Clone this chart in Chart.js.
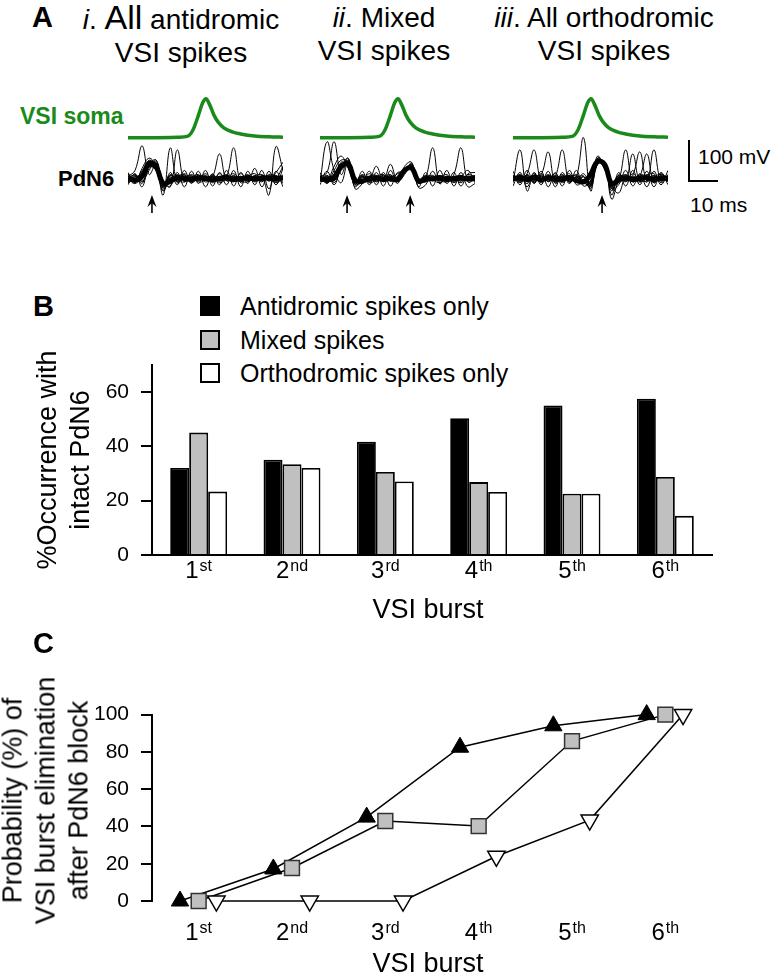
<!DOCTYPE html>
<html>
<head>
<meta charset="utf-8">
<script src="https://cdn.jsdelivr.net/npm/chart.js@4.4.1/dist/chart.umd.min.js"></script>
<style>
body{margin:0;background:#fff;font-family:'Liberation Sans',Arial,sans-serif;color:#000}
#fig{position:relative;width:777px;height:978px;overflow:hidden}
.t{position:absolute;white-space:nowrap}
canvas{position:absolute}
.letter{font-weight:bold;font-size:29px;line-height:32px}
.title{font-size:28px;line-height:33px;text-align:center;width:280px}
.box{position:absolute;width:20px;height:20px;box-sizing:border-box;border:2px solid #000}
.leg{font-size:25px;line-height:28px}
.ytitle{font-size:27px;line-height:33px;text-align:center;width:300px;transform:rotate(-90deg)}
.xtitle{font-size:27px;line-height:32px;text-align:center;width:200px}
</style>
</head>
<body>
<div id="fig">
  <!-- panel A -->
  <div class="t letter" style="left:32px;top:1px">A</div>
  <div class="t title" style="left:41px;top:1px"><i>i</i>. <span style="font-size:34px">All</span> antidromic<br>VSI spikes</div>
  <div class="t title" style="left:244px;top:1px"><i>ii</i>. Mixed<br>VSI spikes</div>
  <div class="t title" style="left:464px;top:1px"><i>iii</i>. All orthodromic<br>VSI spikes</div>
  <div class="t" style="left:20px;top:103px;font-weight:bold;font-size:23px;line-height:26px;color:#1a8a1a">VSI soma</div>
  <div class="t" style="left:58px;top:166px;font-weight:bold;font-size:22px;line-height:26px">PdN6</div>
  <canvas id="traceI" width="155" height="135" style="left:128px;top:85px"></canvas>
  <canvas id="traceII" width="155" height="135" style="left:320px;top:85px"></canvas>
  <canvas id="traceIII" width="155" height="135" style="left:513px;top:85px"></canvas>
  <div style="position:absolute;left:688px;top:140px;width:30px;height:42px;box-sizing:border-box;border-left:2px solid #000;border-bottom:2px solid #000"></div>
  <div class="t" style="left:698px;top:145px;font-size:21px;line-height:24px">100 mV</div>
  <div class="t" style="left:690px;top:193px;font-size:21px;line-height:24px">10 ms</div>

  <!-- panel B -->
  <div class="t letter" style="left:33px;top:290px">B</div>
  <div class="box" style="left:200px;top:296px;background:#000"></div>
  <div class="box" style="left:200px;top:330px;background:#c0c0c0"></div>
  <div class="box" style="left:200px;top:363px;background:#fff"></div>
  <div class="t leg" style="left:240px;top:292px">Antidromic spikes only</div>
  <div class="t leg" style="left:240px;top:326px">Mixed spikes</div>
  <div class="t leg" style="left:240px;top:359px">Orthodromic spikes only</div>
  <canvas id="chartB" width="777" height="280" style="left:0;top:340px"></canvas>
  <div class="t ytitle" style="left:-86px;top:427px">%Occurrence with<br>intact PdN6</div>
  <div class="t xtitle" style="left:328px;top:593px">VSI burst</div>

  <!-- panel C -->
  <div class="t letter" style="left:33px;top:627px">C</div>
  <canvas id="chartC" width="777" height="288" style="left:0;top:690px"></canvas>
  <div class="t ytitle" style="left:-104px;top:751px">Probability (%) of<br>VSI burst elimination<br>after PdN6 block</div>
  <div class="t xtitle" style="left:328px;top:947px">VSI burst</div>
</div>

<script>
// ---- data ----
const burstLabels = ['1st', '2nd', '3rd', '4th', '5th', '6th'];

// B: % occurrence with intact PdN6
const antidromicOcc  = [32, 35, 41.6, 50.3, 55, 57.4];
const mixedOcc       = [45, 33.4, 30.5, 26.8, 22.5, 28.7];
const orthodromicOcc = [23.3, 32, 27, 23.2, 22.5, 14.4];
const occTicks = [0, 20, 40, 60];

// C: probability of burst elimination after PdN6 block
const antidromicElim  = [0, 17.2, 45, 82.5, 94, 100];
const mixedElim       = [0, 17.7, 42.9, 40.2, 85.8, 100];
const orthodromicElim = [0, 0, 0, 24, 43.4, 100];
const elimTicks = [0, 20, 40, 60, 80, 100];

// A: VSI soma spike (mV above baseline), same shape in all three panels
const somaTime = [0, 10, 18, 21, 23, 25, 26.5, 27.7, 29, 30.5, 32, 34, 37, 40, 45, 50, 55];
const somaMv   = [0, 0, 1, 3, 18, 55, 85, 95, 80, 55, 38, 24, 14, 9, 4, 2, 1];

// A: PdN6 extracellular sweeps (mV), sampled every 2.5 ms
const pdnTime = [0, 2.5, 5, 7.5, 10, 12.5, 15, 17.5, 20, 22.5, 25, 27.5, 30, 32.5, 35, 37.5, 40, 42.5, 45, 47.5, 50, 52.5, 55];
const meanI = [2, -4, 6, 38, 28, -12, -6, 2, 0, -2, 2, 0, -2, 0, 2, -2, 0, 2, -1, 1, 2, 0, 2];
const sweepsI = [
  [5, 20, 80, 10, 35, -25, -5, 8, -3, 5, -6, 4, -2, 6, 0, -8, 3, -4, 6, -2, 4, -6, 10],
  [-10, 0, 15, 40, 25, -40, 75, -10, 8, -5, 4, -3, 10, -6, 2, 5, -4, 8, -2, 3, -5, 0, 30],
  [8, -5, 10, 30, 35, -5, -20, 70, -8, 10, -4, 6, -10, 3, 8, -2, 6, -6, 0, 5, -3, 8, -10],
  [-5, 10, -8, 25, 40, -10, 4, -6, 12, -4, 8, -3, 6, -2, 5, 75, -10, 4, -6, 8, -4, 2, 5],
  [12, -8, 20, 30, 20, -30, 8, -2, 5, -10, 3, 8, -6, 12, -4, 6, -2, 10, -8, 4, -40, 78, 20],
  [-8, 6, -12, 35, 38, -18, -4, 10, -6, 2, 10, -8, 4, 60, -6, 3, -8, 5, 12, -4, 6, -10, 0],
  [0, -12, 8, 45, 25, -15, 10, -4, -8, 6, -2, 12, -5, -2, 10, -6, 12, -3, 4, -8, 10, 6, -4],
  [4, 8, -6, 20, 45, -22, 2, 6, 10, -8, 5, -4, 8, -10, 0, 12, -5, -8, 6, 10, -6, 15, 40],
  [-6, 4, 10, 28, 32, -8, -10, 4, 6, -6, -2, 6, -8, 4, -4, 8, -6, 2, -4, 6, -2, -8, 6],
  [6, -6, -2, 32, 20, -20, 8, -8, 2, 8, -8, -4, 6, -6, 6, -4, 4, -6, 8, -6, 6, 4, -12],
  [15, -10, 25, 50, 30, -30, 15, -15, 20, -12, 18, -20, 12, -15, 20, -18, 15, -12, 25, -20, 18, -15, 25],
  [-15, 12, -20, 35, 45, -10, -18, 15, -20, 18, -12, 20, -18, 15, -15, 20, -20, 18, -15, 20, -25, 18, -20]
];
const meanII = [0, -3, 2, 30, 36, -4, -6, 0, 2, -2, 0, -2, 20, 26, -6, -2, 0, 2, -2, 0, 2, -1, 0];
const sweepsII = [
  [5, 15, 90, 10, 45, -10, 5, -6, 3, -4, 8, -2, 15, 30, -8, 4, -3, 6, -5, 2, 8, -4, 6],
  [-8, 90, 20, -10, 40, -6, 10, -4, -2, 6, -5, 4, 25, 20, -12, 3, 8, -6, 4, -10, 5, 2, -6],
  [10, -6, 30, 55, 25, -15, -8, 12, -4, 2, 10, -8, 10, 35, -5, 6, -4, 8, -2, 4, -6, 10, 3],
  [-4, 8, -10, 25, 50, -8, 4, -2, 30, -6, 4, -2, 18, 28, -10, 2, 75, -12, 6, -4, 8, -6, 4],
  [6, -2, 12, 35, 30, -20, 6, -8, 4, 10, -6, 2, 20, 30, -4, -8, 3, 6, -6, 10, 75, -8, -2],
  [-6, 4, -4, 40, 30, 2, -12, 6, 8, -4, 35, -6, 15, 25, -2, 5, -6, 2, 10, -8, 4, 20, -10],
  [2, -10, 6, 28, 42, -6, 8, -10, -3, 8, -2, 12, 18, 30, -8, -3, 6, -4, -8, 6, -2, 4, 8],
  [-2, 6, 4, 20, 35, -12, 2, 4, -8, 2, 6, -4, 22, 34, -2, 8, -2, -10, 4, 2, -10, 6, 0],
  [4, -6, 8, 32, 38, -8, -4, 6, -6, 4, -6, 6, 24, 22, -6, -6, 4, -4, 6, -6, 4, -4, 6],
  [-6, 4, -6, 26, 30, -4, 6, -6, 6, -8, 4, -6, 14, 32, -12, 6, -4, 6, -6, 4, -6, 6, -6],
  [15, -12, 20, 45, 40, -15, 18, -15, 15, -18, 20, -12, 30, 40, -20, 15, -18, 20, -12, 15, -18, 12, 15],
  [-15, 18, -15, 25, 48, -25, -12, 18, -15, 15, -18, 15, 15, 38, -22, -15, 18, -12, 20, -18, 15, -20, -12]
];
const meanIII = [0, 2, -2, 3, -3, 2, 0, -2, 3, -4, -8, 10, 42, 35, -12, -4, 2, -2, 1, 2, -2, 1, 0];
const sweepsIII = [
  [-10, 70, -30, 10, -6, 4, -8, 6, -4, 10, -6, -20, 40, 30, -25, 4, 8, -4, 6, 60, -10, 4, -6],
  [8, -4, 12, 70, -6, 8, -10, 4, 6, -4, 12, -12, 50, 25, -15, -4, 70, -8, 4, -2, 8, -6, 10],
  [-4, 10, -8, 6, 10, 65, -12, 8, -6, 4, 100, -30, 35, 40, -40, 10, -6, 8, 65, -6, 4, 10, -4],
  [6, -8, 4, -10, 8, -6, 4, 70, -10, 6, -4, -15, 45, 30, -20, 8, -4, 60, -8, 6, -10, 8, 4],
  [-6, 4, -12, 8, -4, 10, -6, -2, 12, -8, 6, -25, 38, 38, -50, -6, 10, -4, 6, -8, 70, -6, 8],
  [10, -6, 8, -4, 12, -8, 6, -10, 4, 8, -10, -10, 55, 22, -18, -35, 4, -6, 10, 4, -6, 12, -8],
  [-2, 8, -6, 12, -10, 6, -4, 10, -8, 2, 6, -18, 42, 32, -10, 6, -8, 12, -4, 10, -4, -2, 6],
  [4, -10, 10, -6, 6, -2, 12, -6, 2, -10, -4, -8, 48, 28, -22, -10, 6, -2, -8, 8, 12, -10, 2],
  [-6, 6, -4, 6, -6, 4, -6, 6, -6, 4, -8, -6, 36, 34, -14, 4, -6, 6, -4, -6, 6, -4, 6],
  [6, -4, 6, -8, 4, -6, 8, -4, 4, -6, 4, -14, 44, 24, -8, -6, 4, -8, 6, 4, -8, 6, -6],
  [18, -15, 20, -12, 18, -20, 15, -18, 20, -15, -10, -20, 50, 35, -30, 15, -18, 20, -15, 18, -20, 15, -15],
  [-18, 15, -20, 15, -15, 18, -20, 15, -12, 20, -18, -5, 40, 42, -25, -15, 20, -18, 12, -20, 18, -15, 20]
];
// spike times marked by arrows (ms)
const arrowsI = [8.5];
const arrowsII = [9.6, 32];
const arrowsIII = [31.6];

// ---- styling ----
const FONT = "'Liberation Sans', Arial, sans-serif";
Chart.defaults.font.family = FONT;
Chart.defaults.color = '#000';
const GREEN = '#1a8a1a';
const GREY = '#c0c0c0';
const pdnOffset = -100;   // vertical offset of the PdN6 sweeps under the soma trace
const dodge = [-0.2, 0, 0.19];

function arrowPlugin(times) {
  return {
    id: 'spikeArrows',
    afterDraw(chart) {
      const ctx = chart.ctx, sx = chart.scales.x;
      times.forEach(t => {
        const x = sx.getPixelForValue(t);
        ctx.save();
        ctx.fillStyle = '#000';
        ctx.strokeStyle = '#000';
        ctx.lineWidth = 1.6;
        ctx.beginPath();
        ctx.moveTo(x, 110);
        ctx.lineTo(x + 4.5, 122);
        ctx.lineTo(x, 118);
        ctx.lineTo(x - 4.5, 122);
        ctx.closePath();
        ctx.fill();
        ctx.beginPath();
        ctx.moveTo(x, 116);
        ctx.lineTo(x, 128);
        ctx.stroke();
        ctx.restore();
      });
    }
  };
}

function traceChart(id, sweeps, mean, arrows) {
  const ds = [];
  ds.push({
    data: somaMv.map((v, i) => ({x: somaTime[i], y: v})),
    borderColor: GREEN, borderWidth: 3.5, cubicInterpolationMode: 'monotone'
  });
  sweeps.forEach(sw => ds.push({
    data: sw.map((v, i) => ({x: pdnTime[i], y: v + pdnOffset})),
    borderColor: '#000', borderWidth: 1, tension: 0.4
  }));
  ds.push({
    data: mean.map((v, i) => ({x: pdnTime[i], y: v + pdnOffset})),
    borderColor: '#000', borderWidth: 5, tension: 0.4
  });
  new Chart(document.getElementById(id), {
    type: 'line',
    data: {datasets: ds},
    options: {
      responsive: false,
      animation: false,
      layout: {padding: 0},
      elements: {point: {radius: 0}},
      plugins: {legend: {display: false}, tooltip: {enabled: false}},
      scales: {
        x: {type: 'linear', display: false, min: 0, max: 55},
        y: {display: false, min: -201, max: 128.5}
      }
    },
    plugins: [arrowPlugin(arrows)]
  });
}

traceChart('traceI', sweepsI, meanI, arrowsI);
traceChart('traceII', sweepsII, meanII, arrowsII);
traceChart('traceIII', sweepsIII, meanIII, arrowsIII);

// category labels with superscript suffixes
function burstTickPlugin(baseline, linear) {
  return {
    id: 'burstTicks',
    afterDraw(chart) {
      const ctx = chart.ctx, sx = chart.scales.x;
      burstLabels.forEach((lab, i) => {
        const m = lab.match(/^(\d+)(\D+)$/);
        const cx = linear ? sx.getPixelForValue(i + 1) : sx.getPixelForTick(i);
        ctx.save();
        ctx.fillStyle = '#000';
        ctx.textAlign = 'left';
        ctx.textBaseline = 'alphabetic';
        ctx.font = '24px ' + FONT;
        const w1 = ctx.measureText(m[1]).width;
        ctx.font = '16px ' + FONT;
        const w2 = ctx.measureText(m[2]).width;
        const x0 = cx - (w1 + w2 + 1) / 2;
        ctx.font = '24px ' + FONT;
        ctx.fillText(m[1], x0, baseline);
        ctx.font = '16px ' + FONT;
        ctx.fillText(m[2], x0 + w1 + 1, baseline - 7);
        ctx.restore();
      });
    }
  };
}

const yAxisStyle = {
  grid: {drawOnChartArea: false, color: '#000', lineWidth: 2, tickLength: 11},
  border: {color: '#000', width: 2},
  ticks: {color: '#000', font: {size: 21}, padding: 12},
  afterFit: s => { s.width = 152; }
};

// ---- panel B ----
new Chart(document.getElementById('chartB'), {
  type: 'bar',
  data: {
    labels: burstLabels,
    datasets: [
      {label: 'Antidromic spikes only', data: antidromicOcc, backgroundColor: '#000'},
      {label: 'Mixed spikes', data: mixedOcc, backgroundColor: GREY},
      {label: 'Orthodromic spikes only', data: orthodromicOcc, backgroundColor: '#fff'}
    ].map(d => Object.assign(d, {borderColor: '#000', borderWidth: 1.8, categoryPercentage: 0.61, barPercentage: 1}))
  },
  options: {
    responsive: false,
    animation: false,
    layout: {padding: {top: 15, right: 65, left: 0, bottom: 0}},
    plugins: {legend: {display: false}, tooltip: {enabled: false}},
    scales: {
      x: {
        grid: {display: false},
        border: {color: '#000', width: 2},
        ticks: {display: false},
        afterFit: s => { s.height = 65; }
      },
      y: Object.assign({
        min: 0, max: 70,
        afterBuildTicks: s => { s.ticks = occTicks.map(v => ({value: v})); }
      }, yAxisStyle)
    }
  },
  plugins: [burstTickPlugin(238, false)]
});

// ---- panel C ----
function elimSeries(values, k, extra) {
  return Object.assign({
    data: values.map((v, i) => ({x: i + 1 + dodge[k], y: v})),
    borderColor: '#000', borderWidth: 1.5, tension: 0, clip: false
  }, extra);
}

new Chart(document.getElementById('chartC'), {
  type: 'line',
  data: {
    datasets: [
      elimSeries(orthodromicElim, 2, {pointStyle: 'triangle', rotation: 180, pointRadius: 10,
        pointBackgroundColor: '#fff', pointBorderColor: '#000', pointBorderWidth: 1.5}),
      elimSeries(mixedElim, 1, {pointStyle: 'rect', pointRadius: 10.5,
        pointBackgroundColor: GREY, pointBorderColor: '#333', pointBorderWidth: 1.5}),
      elimSeries(antidromicElim, 0, {pointStyle: 'triangle', pointRadius: 10,
        pointBackgroundColor: '#000', pointBorderColor: '#000', pointBorderWidth: 1})
    ]
  },
  options: {
    responsive: false,
    animation: false,
    layout: {padding: {top: 11, right: 65, left: 0, bottom: 0}},
    plugins: {legend: {display: false}, tooltip: {enabled: false}},
    scales: {
      x: {
        type: 'linear', min: 0.5, max: 6.5,
        grid: {display: false},
        border: {display: false},
        ticks: {display: false},
        afterFit: s => { s.height = 77; }
      },
      y: Object.assign({
        min: 0, max: 100,
        afterBuildTicks: s => { s.ticks = elimTicks.map(v => ({value: v})); }
      }, yAxisStyle)
    }
  },
  plugins: [burstTickPlugin(250, true)]
});
</script>
</body>
</html>
